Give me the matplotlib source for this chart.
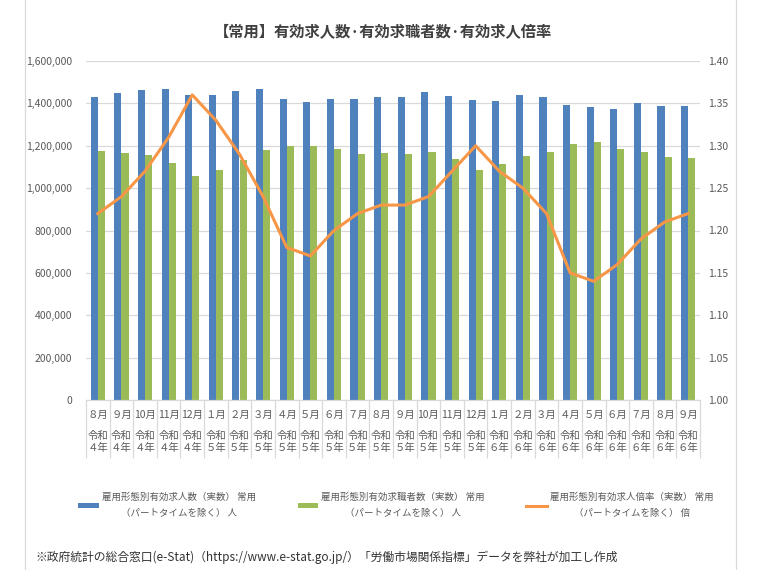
import matplotlib
matplotlib.use("Agg")
import matplotlib.pyplot as plt
import numpy as np
from matplotlib.ticker import FuncFormatter, MultipleLocator
from matplotlib.lines import Line2D
import matplotlib.transforms as mtransforms

plt.rcParams['font.family'] = ['Noto Sans CJK JP', 'DejaVu Sans']

months = ["８月", "９月", "10月", "11月", "12月",
          "１月", "２月", "３月", "４月", "５月", "６月", "７月", "８月", "９月", "10月", "11月", "12月",
          "１月", "２月", "３月", "４月", "５月", "６月", "７月", "８月", "９月"]
eras = ["令和\n４年"] * 5 + ["令和\n５年"] * 12 + ["令和\n６年"] * 9

openings = [1431000, 1448000, 1464000, 1467000, 1441000, 1441000, 1459000, 1467000,
            1422000, 1406000, 1422000, 1419000, 1428000, 1431000, 1453000, 1437000,
            1417000, 1411000, 1439000, 1430000, 1391000, 1384000, 1375000, 1400000,
            1387000, 1387000]
seekers = [1175000, 1166000, 1156000, 1119000, 1059000, 1087000, 1131000, 1181000,
           1200000, 1200000, 1184000, 1161000, 1164000, 1162000, 1170000, 1136000,
           1087000, 1116000, 1152000, 1172000, 1208000, 1216000, 1183000, 1170000,
           1148000, 1144000]
ratio = [1.22, 1.24, 1.27, 1.31, 1.36, 1.33, 1.29, 1.24, 1.18, 1.17, 1.20, 1.22, 1.23,
         1.23, 1.24, 1.27, 1.30, 1.27, 1.25, 1.22, 1.15, 1.14, 1.16, 1.19, 1.21, 1.22]

label_blue = "雇用形態別有効求人数（実数） 常用\n（パートタイムを除く） 人"
label_green = "雇用形態別有効求職者数（実数） 常用\n（パートタイムを除く） 人"
label_orange = "雇用形態別有効求人倍率（実数） 常用\n（パートタイムを除く） 倍"
title = "【常用】有効求人数·有効求職者数·有効求人倍率"
note = "※政府統計の総合窓口(e-Stat)（https://www.e-stat.go.jp/）「労働市場関係指標」データを弊社が加工し作成"

BLUE = "#4F81BD"
GREEN = "#9BBB59"
ORANGE = "#F79646"
GRID = "#D9D9D9"
TXT = "#595959"

fig = plt.figure(figsize=(7.6, 5.7), dpi=100)
ax = fig.add_axes([86/760, 1-400/570, 614/760, 339/570])
ax2 = ax.twinx()

x = np.arange(len(months))
w = 0.30
b1 = ax.bar(x - w/2, openings, width=w, color=BLUE, label=label_blue, zorder=2)
b2 = ax.bar(x + w/2, seekers, width=w, color=GREEN, label=label_green, zorder=2)
l1, = ax2.plot(x, ratio, color=ORANGE, lw=2.2, label=label_orange, zorder=3)

ax.set_xlim(-0.5, len(months) - 0.5)
ax.set_ylim(0, 1600000)
ax.yaxis.set_major_locator(MultipleLocator(200000))
ax.yaxis.set_major_formatter(FuncFormatter(lambda v, p: f"{int(v):,}"))
ax2.set_ylim(1.0, 1.4)
ax2.yaxis.set_major_locator(MultipleLocator(0.05))
ax2.yaxis.set_major_formatter(FuncFormatter(lambda v, p: f"{v:.2f}"))

ax.grid(axis='y', color=GRID, lw=0.9, zorder=0)
ax.set_axisbelow(True)
for a in (ax, ax2):
    for s in ('top', 'left', 'right'):
        a.spines[s].set_visible(False)
    a.spines['bottom'].set_color(GRID)

ax.tick_params(axis='y', length=0, pad=10, labelsize=7.5, labelcolor=TXT)
ax2.tick_params(axis='y', length=0, pad=6, labelsize=7.5, labelcolor=TXT)

ax.xaxis.remove_overlapping_locs = False
ax.set_xticks(x, months)
ax.tick_params(axis='x', which='major', length=0, pad=7, labelsize=7.5, labelcolor=TXT)
ax.set_xticks(x, eras, minor=True)
ax.tick_params(axis='x', which='minor', length=0, pad=22, labelsize=7.5, labelcolor=TXT)
for t in ax.get_xticklabels(minor=True):
    t.set_linespacing(1.3)

trans = mtransforms.blended_transform_factory(ax.transData, ax.transAxes)
ax.vlines(np.arange(len(months) + 1) - 0.5, -0.172, 0, transform=trans,
          color=GRID, lw=0.9, clip_on=False)

fig.text(383/760, 1-31/570, title, ha='center', va='center', fontsize=11,
         fontweight='bold', color="#404040")

leg = fig.legend(handles=[b1, b2, l1], loc='center', bbox_to_anchor=(396/760, 1-505/570),
                 ncol=3, frameon=False, fontsize=6.8, labelcolor=TXT,
                 handlelength=2.2, handleheight=0.4, columnspacing=4.4, handletextpad=0.3)
for t in leg.get_texts():
    t.set_multialignment('center')
    t.set_linespacing(2.0)

fig.text(35/760, 1-557/570, note, ha='left', va='center', fontsize=8.5, color="#333333")

for xx in (25/760, 736/760):
    fig.add_artist(Line2D([xx, xx], [0, 1], color=GRID, lw=0.9, transform=fig.transFigure))

fig.savefig("out.png", dpi=100)
